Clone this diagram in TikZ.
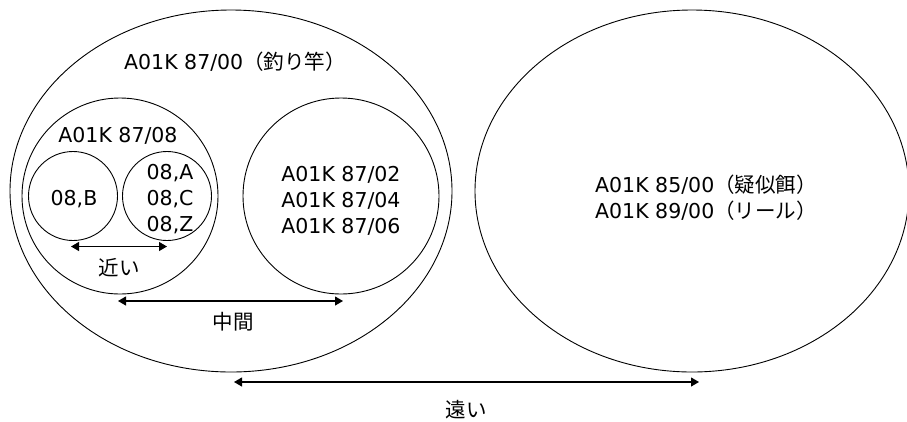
\documentclass[tikz,border=0pt]{standalone}
\usepackage{fontspec}
\setmainfont{DejaVu Sans}
\newfontfamily\jpfont{Noto Sans CJK JP}
\usetikzlibrary{shapes.geometric,arrows.meta}
\begin{document}
\begin{tikzpicture}[x=1pt,y=-1pt,
  every node/.style={font=\fontsize{20.5}{25.7}\selectfont, inner sep=0pt, outer sep=0pt},
  oval/.style={draw, line width=0.9pt, ellipse},
  ring/.style={draw, line width=0.9pt, circle},
  txt/.style={align=center},
  lbl/.style={font=\jpfont\fontsize{20.5}{24}\selectfont},
  arr/.style={line width=1.1pt, {Triangle[length=8pt,width=9pt]}-{Triangle[length=8pt,width=9pt]}}]
\useasboundingbox (0,0) rectangle (907,421);
\begin{scope}
\clip (0,0) rectangle (907,421);
% large ovals
\node[oval, minimum width=442pt, minimum height=362pt] (outer) at (231,191) {};
\node[oval, minimum width=434pt, minimum height=362pt] (far) at (692,191) {};
% circles inside the fishing-rod group
\node[ring, minimum size=196pt] (c08) at (120,196) {};
\node[ring, minimum size=196pt] (c02) at (341,196) {};
\node[ring, minimum size=89pt] (cB) at (73,196) {};
\node[ring, minimum size=89pt] (cA) at (167,196) {};
\end{scope}
% texts
\node[txt] (t00) at (235,62) {A01K 87/00{\jpfont （釣り竿）}};
\node[txt] (t08) at (118,136) {A01K 87/08};
\node[txt] (tB) at (74,199) {08,B};
\node[txt] (tA) at (170,199) {08,A\\08,C\\08,Z};
\node[txt] (t02) at (341,201) {A01K 87/02\\A01K 87/04\\A01K 87/06};
\node[align=left] (t85) at (706,198) {A01K 85/00{\jpfont （疑似餌）}\\A01K 89/00{\jpfont （リール）}};
% distance arrows
\draw[arr] ([xshift=-2pt,yshift=-6pt]cB.south) -- ([yshift=-6pt]cA.south);
\draw[arr] ([xshift=-2pt,yshift=-7pt]c08.south) -- ([xshift=2pt,yshift=-7pt]c02.south);
\draw[arr] ([xshift=3pt,yshift=-10pt]outer.south) -- ([xshift=7pt,yshift=-10pt]far.south);
\node[lbl] (lnear) at (119,268) {近い};
\node[lbl] (lmid) at (233,322) {中間};
\node[lbl] (lfar) at (466,410) {遠い};
\end{tikzpicture}
\end{document}
